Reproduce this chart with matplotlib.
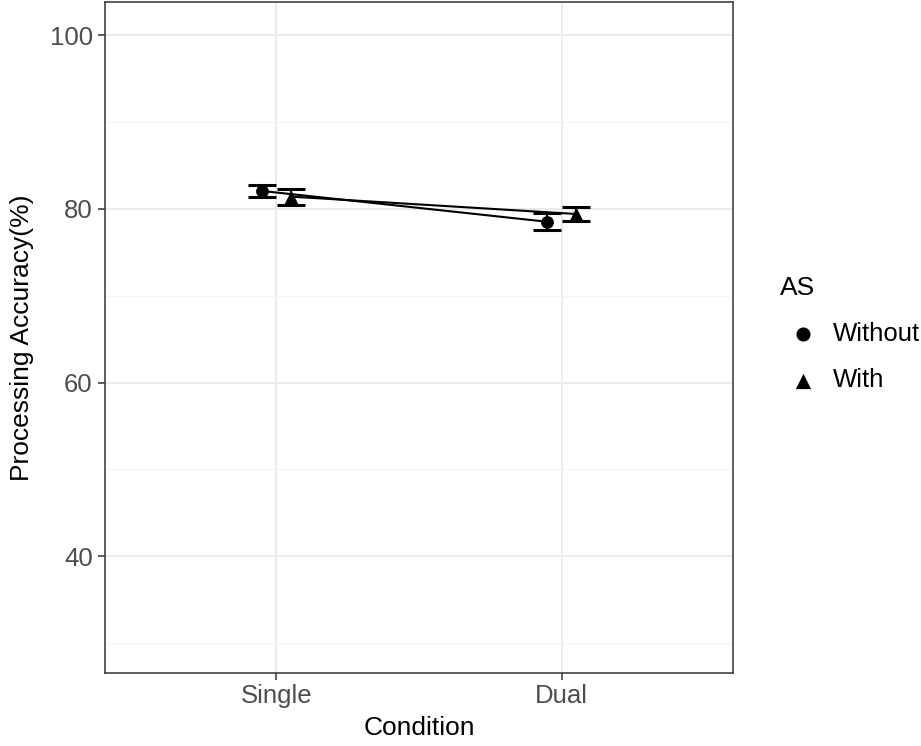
import numpy as np
import matplotlib.pyplot as plt

plt.rcParams['font.family'] = ['Liberation Sans', 'DejaVu Sans']

# data
conditions = ['Single', 'Dual']
groups = ['Without', 'With']
means = {'Without': [82.05, 78.5], 'With': [81.4, 79.4]}
errs = {'Without': [0.68, 1.0], 'With': [0.92, 0.85]}
markers = {'Without': 'o', 'With': '^'}
sizes = {'Without': 85, 'With': 100}
offsets = {'Without': -0.05, 'With': 0.05}

fig = plt.figure(figsize=(9.21, 7.46), dpi=100)
ax = fig.add_axes([105 / 921, 73.3 / 746, 628 / 921, 670.7 / 746])

x = np.arange(1, len(conditions) + 1)
for g in groups:
    xs = x + offsets[g]
    ax.plot(xs, means[g], color='black', lw=1.5, zorder=3)
    ax.errorbar(xs, means[g], yerr=errs[g], fmt='none', ecolor='black',
                elinewidth=1.5, capsize=10.4, capthick=2.2, zorder=3)
    ax.scatter(xs, means[g], marker=markers[g], s=sizes[g], color='black',
               zorder=4, label=g, linewidths=0)

ax.set_xlim(0.4, 2.6)
ax.set_ylim(26.6, 103.8)
ax.set_xticks(x)
ax.set_xticklabels(conditions)
ax.set_yticks([40, 60, 80, 100])
ax.set_yticks([30, 50, 70, 90], minor=True)
ax.grid(which='major', color='#EBEBEB', lw=1.4)
ax.grid(which='minor', axis='y', color='#F4F4F4', lw=0.8)
ax.tick_params(which='minor', length=0)
ax.tick_params(which='major', length=5.3, width=1.1, color='#333333',
               labelsize=18.5, labelcolor='#4D4D4D')
ax.tick_params(axis='x', pad=2.5)
ax.tick_params(axis='y', pad=3.5)
ax.set_axisbelow(True)
for sp in ax.spines.values():
    sp.set_color('#333333')
    sp.set_linewidth(1.1)

ax.set_xlabel('Condition', fontsize=19, labelpad=6)
ax.set_ylabel('Processing Accuracy(%)', fontsize=19, labelpad=11)

leg = ax.legend(title='AS', loc='center left',
                bbox_to_anchor=((780 - 105) / 628, 0.505),
                frameon=False, fontsize=18.5, title_fontsize=19,
                handlelength=1.8, handletextpad=0.27, labelspacing=0.87,
                borderpad=0, borderaxespad=0, markerscale=1.1)
leg._legend_box.align = 'left'

fig.savefig('out.png', dpi=100)
